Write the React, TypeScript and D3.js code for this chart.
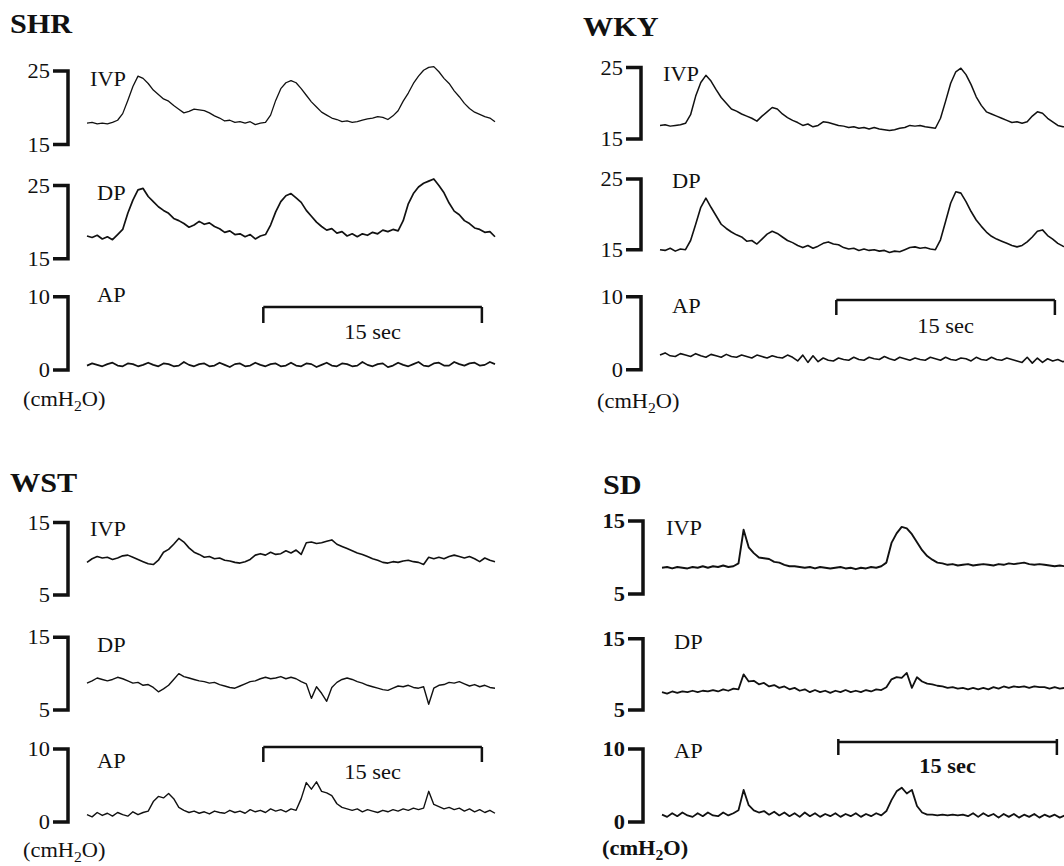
import React from 'react';
import * as d3 from 'd3';

// recording length shown in each trace (sec) and the 15 sec scale bar
const TRACE_SECONDS = 28;
const BAR_START = 12.1;
const BAR_END = 27.1;

const SHR_IVP = [17.9, 18.0, 17.8, 17.9, 17.8, 18.0, 18.3, 19.2, 21.0, 22.9,
  24.3, 24.0, 23.3, 22.4, 21.8, 21.2, 20.9, 20.3, 19.8, 19.3,
  19.5, 19.8, 19.7, 19.6, 19.3, 18.9, 18.6, 18.2, 18.3, 18.0,
  18.1, 17.9, 18.1, 17.7, 17.9, 18.0, 19.0, 21.0, 22.6, 23.4,
  23.7, 23.4, 22.6, 21.7, 20.8, 20.1, 19.4, 19.0, 18.6, 18.4,
  18.1, 18.2, 18.0, 18.1, 18.3, 18.5, 18.6, 18.8, 18.7, 18.4,
  18.9, 19.6, 20.9, 22.0, 23.3, 24.3, 25.1, 25.5, 25.6, 24.9,
  24.0, 23.3, 22.3, 21.5, 20.6, 19.9, 19.4, 19.1, 18.8, 18.6,
  18.1];
const SHR_DP = [18.1, 17.9, 18.2, 17.7, 18.0, 17.6, 18.3, 19.0, 21.2, 23.0,
  24.4, 24.6, 23.5, 22.8, 22.1, 21.6, 21.2, 20.5, 20.2, 19.8,
  19.3, 19.6, 20.1, 19.7, 19.9, 19.4, 19.1, 18.6, 18.8, 18.3,
  18.4, 18.0, 18.3, 17.7, 18.1, 18.3, 19.6, 21.4, 22.8, 23.6,
  23.9, 23.3, 22.7, 21.6, 20.8, 20.0, 19.4, 18.9, 19.1, 18.5,
  18.7, 18.1, 18.4, 18.0, 18.4, 18.2, 18.6, 18.4, 18.9, 18.7,
  19.0, 18.8, 20.2, 22.5, 23.9, 24.8, 25.3, 25.6, 25.9, 25.0,
  24.0, 22.6, 21.5, 21.0, 20.2, 19.8, 19.2, 19.0, 18.6, 18.7,
  18.0];
const SHR_AP = [0.6, 0.9, 0.7, 0.5, 0.8, 1.0, 0.6, 0.5, 0.9, 0.8,
  0.5, 0.7, 1.0, 0.7, 0.5, 0.9, 0.8, 0.5, 0.6, 1.1,
  0.7, 0.5, 0.8, 0.9, 0.5, 0.6, 1.0, 0.7, 0.4, 0.8,
  0.9, 0.5, 0.6, 1.0, 0.7, 0.5, 0.8, 0.9, 0.5, 0.6,
  1.0, 0.6, 0.5, 0.9, 0.8, 0.4, 0.7, 1.0, 0.6, 0.5,
  0.9, 0.8, 0.5, 0.6, 1.1, 0.7, 0.5, 0.8, 0.9, 0.4,
  0.6, 1.0, 0.7, 0.5, 0.8, 1.1, 0.6, 0.5, 0.9, 1.0,
  0.6, 0.6, 1.1, 0.8, 0.6, 0.9, 1.0, 0.6, 0.7, 1.1,
  0.8];

const WKY_IVP = [16.9, 17.0, 16.8, 16.9, 17.0, 17.2, 18.4, 21.0, 22.9, 23.9,
  23.1, 21.9, 20.8, 20.0, 19.2, 18.9, 18.5, 18.2, 17.9, 17.5,
  18.2, 18.8, 19.4, 19.2, 18.5, 18.0, 17.6, 17.3, 16.9, 17.1,
  16.7, 16.9, 17.4, 17.3, 17.1, 16.9, 16.8, 16.6, 16.7, 16.5,
  16.6, 16.4, 16.6, 16.4, 16.3, 16.2, 16.3, 16.5, 16.6, 16.9,
  16.8, 16.9, 16.7, 16.6, 16.5, 17.9, 20.3, 22.8, 24.4, 24.9,
  24.0, 22.6, 20.9, 19.7, 18.8, 18.5, 18.2, 17.9, 17.6, 17.3,
  17.4, 17.2, 17.4, 18.2, 18.8, 18.6, 17.9, 17.4, 16.9, 16.7,
  16.8];
const WKY_DP = [15.0, 14.9, 15.2, 14.8, 15.1, 15.0, 16.3, 18.6, 21.0, 22.3,
  21.0, 19.8, 18.6, 18.0, 17.5, 17.1, 16.8, 16.2, 16.3, 15.8,
  16.5, 17.2, 17.6, 17.3, 16.8, 16.3, 16.0, 15.6, 15.3, 15.6,
  15.2, 15.5, 15.9, 16.1, 15.8, 15.7, 15.3, 15.1, 15.2, 14.9,
  15.1, 14.9, 15.0, 14.8, 14.9, 14.6, 14.8, 14.7, 15.0, 15.3,
  15.4, 15.2, 15.3, 15.1, 15.0, 16.4, 19.0, 21.6, 23.2, 23.0,
  21.8, 20.4, 19.2, 18.3, 17.5, 16.9, 16.5, 16.2, 15.9, 15.6,
  15.4, 15.6, 16.1, 16.8, 17.6, 17.8, 17.0, 16.5, 15.9, 15.5,
  15.3];
const WKY_AP = [2.0, 2.3, 1.9, 1.8, 2.2, 2.0, 1.8, 2.2, 1.9, 1.7,
  2.1, 1.9, 1.7, 2.1, 1.8, 1.7, 2.0, 1.8, 1.6, 2.0,
  1.8, 1.6, 1.9, 1.7, 1.6, 2.0, 1.7, 1.2, 2.0, 1.0,
  1.9, 1.1, 1.6, 1.3, 1.2, 1.6, 1.4, 1.3, 1.7, 1.4,
  1.3, 1.7, 1.5, 1.4, 1.8, 1.5, 1.3, 1.7, 1.5, 1.3,
  1.6, 1.4, 1.3, 1.7, 1.5, 1.3, 1.7, 1.4, 1.3, 1.6,
  1.5, 1.2, 1.7, 1.4, 1.3, 1.7, 1.4, 1.3, 1.6, 1.4,
  1.2, 1.0, 1.7, 0.9, 1.6, 1.0, 1.5, 1.2, 1.4, 1.1,
  1.3];

const WST_IVP = [9.5, 10.0, 10.3, 10.1, 10.2, 9.9, 10.1, 10.4, 10.5, 10.2,
  9.9, 9.6, 9.3, 9.2, 9.8, 10.9, 11.3, 12.0, 12.8, 12.3,
  11.5, 10.9, 10.6, 10.2, 10.3, 10.0, 10.1, 9.8, 9.7, 9.5,
  9.4, 9.6, 9.9, 10.5, 10.7, 10.5, 10.9, 10.6, 10.7, 11.1,
  10.8, 11.2, 10.6, 12.2, 12.3, 12.1, 12.2, 12.4, 12.6, 12.0,
  11.7, 11.4, 11.1, 10.8, 10.6, 10.3, 10.0, 9.8, 9.5, 9.4,
  9.6, 9.5, 9.7, 9.8, 9.6, 9.5, 9.2, 10.2, 10.0, 10.2,
  10.0, 10.3, 10.5, 10.3, 10.1, 10.3, 10.0, 9.6, 10.1, 9.8,
  9.6];
const WST_DP = [8.7, 9.0, 9.4, 9.2, 9.0, 9.2, 9.5, 9.3, 9.0, 8.7,
  8.8, 8.4, 8.5, 8.1, 7.5, 7.9, 8.4, 9.2, 10.0, 9.6,
  9.4, 9.2, 9.0, 8.9, 8.7, 8.8, 8.5, 8.3, 8.1, 8.0,
  8.3, 8.6, 8.9, 9.0, 9.3, 9.5, 9.3, 9.4, 9.6, 9.3,
  9.5, 9.3, 8.9, 8.6, 6.6, 8.2, 7.3, 6.2, 8.1, 8.8,
  9.2, 9.4, 9.2, 8.9, 8.7, 8.4, 8.2, 8.0, 7.8, 7.7,
  8.0, 8.3, 8.2, 8.4, 8.1, 8.0, 8.2, 5.8, 8.0, 8.4,
  8.5, 8.8, 8.7, 8.9, 8.6, 8.3, 8.5, 8.2, 8.4, 8.1,
  8.0];
const WST_AP = [1.0, 0.7, 1.3, 0.9, 1.2, 0.8, 1.3, 1.0, 0.8, 1.4,
  1.0, 1.3, 1.5, 2.8, 3.5, 3.3, 3.9, 3.2, 2.0, 1.6,
  1.3, 1.5, 1.2, 1.4, 1.1, 1.5, 1.3, 1.2, 1.6, 1.3,
  1.5, 1.2, 1.7, 1.4, 1.6, 1.3, 1.8, 1.5, 1.7, 1.4,
  1.8, 1.6, 3.2, 5.4, 4.5, 5.5, 4.2, 4.0, 3.6, 2.5,
  2.0, 1.8, 1.6, 1.8, 1.4, 1.7, 1.5, 1.3, 1.6, 1.4,
  1.7, 1.5, 1.8, 1.6, 1.9, 1.7, 1.9, 4.2, 2.4, 2.1,
  1.8, 2.0, 1.7, 1.9, 1.5, 1.8, 1.4, 1.7, 1.3, 1.6,
  1.2];

const SD_IVP = [8.6, 8.7, 8.5, 8.7, 8.6, 8.5, 8.7, 8.6, 8.8, 8.6,
  8.8, 8.7, 8.9, 8.7, 8.8, 9.2, 13.8, 11.4, 10.6, 10.0,
  9.9, 9.8, 9.4, 9.3, 9.0, 8.8, 8.8, 8.7, 8.6, 8.7,
  8.5, 8.7, 8.6, 8.5, 8.6, 8.7, 8.5, 8.6, 8.4, 8.6,
  8.5, 8.7, 8.6, 8.8, 9.3, 12.0, 13.3, 14.2, 14.0, 13.2,
  12.1, 11.0, 10.2, 9.7, 9.3, 9.2, 9.0, 9.1, 8.9, 9.0,
  9.1, 8.9, 9.0, 9.1, 9.0, 8.9, 9.1, 9.0, 9.2, 9.1,
  9.2, 9.3, 9.1, 9.0, 9.1, 9.0, 8.9, 8.8, 8.9, 8.8,
  8.8];
const SD_DP = [7.5, 7.3, 7.6, 7.4, 7.6, 7.5, 7.7, 7.5, 7.7, 7.6,
  7.8, 7.6, 7.9, 7.7, 8.0, 7.9, 10.0, 9.0, 9.1, 8.6,
  8.8, 8.3, 8.5, 8.1, 8.3, 7.9, 8.1, 7.7, 7.9, 7.5,
  7.8, 7.5, 7.7, 7.4, 7.7, 7.5, 7.8, 7.5, 7.7, 7.5,
  7.8, 7.6, 7.9, 7.8, 8.2, 9.3, 9.6, 9.5, 10.2, 8.1,
  9.6, 9.0, 8.7, 8.6, 8.4, 8.3, 8.1, 8.2, 8.0, 8.1,
  7.9, 8.1, 7.9, 8.1, 7.9, 8.2, 8.0, 8.3, 8.1, 8.3,
  8.2, 8.3, 8.1, 8.3, 8.2, 8.2, 8.0, 8.2, 8.0, 8.1,
  8.0];
const SD_AP = [1.0, 0.7, 1.2, 0.8, 1.3, 0.9, 0.7, 1.2, 0.8, 1.3,
  0.9, 0.8, 1.3, 0.9, 1.2, 1.6, 4.4, 2.3, 1.6, 1.3,
  1.5, 1.0, 1.4, 0.9, 1.3, 0.8, 1.2, 0.7, 1.3, 0.8,
  1.2, 0.7, 1.1, 0.8, 1.2, 0.7, 1.1, 0.8, 1.2, 0.7,
  1.1, 0.8, 1.2, 0.9, 1.5, 3.0, 4.2, 4.7, 3.9, 4.4,
  2.2, 1.3, 1.0, 1.0, 0.9, 1.0, 0.9, 1.0, 0.9, 1.0,
  0.8, 1.2, 0.7, 1.2, 0.8, 1.1, 0.6, 1.1, 0.7, 1.1,
  0.6, 1.0, 0.7, 1.1, 0.6, 1.0, 0.7, 1.0, 0.6, 0.9,
  0.7];

// layout of the four panels (pixel positions, not data)
const PANELS = [
  {
    title: 'SHR', dx: 0, titleX: 10, titleY: 33, bold: false,
    unitX: 23, unitY: 406, barY: 307, barDrop: 16, barUp: 0, barTextY: 339,
    traces: [
      { name: 'IVP', data: SHR_IVP, lo: 15, hi: 25, top: 71, bottom: 144.5, lx: 90, ly: 86, lw: 1.3 },
      { name: 'DP', data: SHR_DP, lo: 15, hi: 25, top: 185.5, bottom: 258.7, lx: 97, ly: 200, lw: 1.7 },
      { name: 'AP', data: SHR_AP, lo: 0, hi: 10, top: 296.7, bottom: 370, lx: 97, ly: 302, lw: 1.7 },
    ],
  },
  {
    title: 'WKY', dx: 573, titleX: 10, titleY: 36, bold: false,
    unitX: 24, unitY: 408, barY: 300, barDrop: 15, barUp: 0, barTextY: 333,
    traces: [
      { name: 'IVP', data: WKY_IVP, lo: 15, hi: 25, top: 67.5, bottom: 139, lx: 90, ly: 81, lw: 1.5 },
      { name: 'DP', data: WKY_DP, lo: 15, hi: 25, top: 179, bottom: 249.7, lx: 99, ly: 188, lw: 1.6 },
      { name: 'AP', data: WKY_AP, lo: 0, hi: 10, top: 296.7, bottom: 369.7, lx: 99, ly: 313, lw: 1.6 },
    ],
  },
  {
    title: 'WST', dx: 0, titleX: 10, titleY: 492, bold: false,
    unitX: 23, unitY: 857, barY: 747, barDrop: 15, barUp: 0, barTextY: 779,
    traces: [
      { name: 'IVP', data: WST_IVP, lo: 5, hi: 15, top: 522.5, bottom: 595, lx: 90, ly: 536, lw: 1.6 },
      { name: 'DP', data: WST_DP, lo: 5, hi: 15, top: 637.3, bottom: 710, lx: 97, ly: 652, lw: 1.4 },
      { name: 'AP', data: WST_AP, lo: 0, hi: 10, top: 749, bottom: 822, lx: 97, ly: 768, lw: 1.4 },
    ],
  },
  {
    title: 'SD', dx: 575, titleX: 28, titleY: 494, bold: true,
    unitX: 27, unitY: 855, barY: 742, barDrop: 13, barUp: 3, barTextY: 773,
    traces: [
      { name: 'IVP', data: SD_IVP, lo: 5, hi: 15, top: 521, bottom: 594, lx: 91, ly: 535, lw: 1.9 },
      { name: 'DP', data: SD_DP, lo: 5, hi: 15, top: 638.7, bottom: 710, lx: 99, ly: 649, lw: 1.8 },
      { name: 'AP', data: SD_AP, lo: 0, hi: 10, top: 749, bottom: 822, lx: 99, ly: 758, lw: 1.8 },
    ],
  },
];

const FONT = '"Liberation Serif", "Times New Roman", serif';
const SX = 1.12; // the scanned figure is slightly stretched horizontally

const Txt = ({ x, y, size = 20, bold = false, anchor = 'start', children }: any) => (
  <text
    transform={`translate(${x},${y}) scale(${SX},1)`}
    fontSize={size}
    fontFamily={FONT}
    fontWeight={bold ? 'bold' : 'normal'}
    textAnchor={anchor}
    fill="#111"
  >
    {children}
  </text>
);

const xScale = d3.scaleLinear().domain([0, TRACE_SECONDS]).range([87, 495]);

const Panel = ({ p }: any) => {
  const x1 = xScale(BAR_START);
  const x2 = xScale(BAR_END);
  return (
    <g transform={`translate(${p.dx},0)`}>
      <Txt x={p.titleX} y={p.titleY} size={27} bold>{p.title}</Txt>
      {p.traces.map((t: any) => {
        const y = d3.scaleLinear().domain([t.lo, t.hi]).range([t.bottom, t.top]);
        const line = d3.line<number>()
          .x((d, i) => xScale((i * TRACE_SECONDS) / (t.data.length - 1)))
          .y(d => y(d));
        return (
          <g key={t.name}>
            <path
              d={`M53,${y(t.hi)}H68V${y(t.lo)}H53`}
              fill="none" stroke="#111" strokeWidth={3.5} strokeLinejoin="miter"
            />
            <Txt x={50} y={y(t.hi) + 7} anchor="end" bold={p.bold}>{t.hi}</Txt>
            <Txt x={50} y={y(t.lo) + 7} anchor="end" bold={p.bold}>{t.lo}</Txt>
            <Txt x={t.lx} y={t.ly}>{t.name}</Txt>
            <path d={line(t.data) || ''} fill="none" stroke="#111"
              strokeWidth={t.lw} strokeLinejoin="round" />
          </g>
        );
      })}
      <path
        d={`M${x1},${p.barY + p.barDrop}V${p.barY - p.barUp}M${x1},${p.barY}H${x2}M${x2},${p.barY - p.barUp}V${p.barY + p.barDrop}`}
        fill="none" stroke="#111" strokeWidth={2.5}
      />
      <Txt x={(x1 + x2) / 2} y={p.barTextY} anchor="middle" bold={p.bold}>15 sec</Txt>
      <Txt x={p.unitX} y={p.unitY} bold={p.bold}>
        (cmH<tspan dy={5} fontSize={14}>2</tspan><tspan dy={-5}>O)</tspan>
      </Txt>
    </g>
  );
};

export default function App() {
  return (
    <svg
      width={1064}
      height={866}
      style={{ position: 'absolute', left: 0, top: 0, background: '#fff' }}
    >
      <rect width={1064} height={866} fill="#fff" />
      {PANELS.map(p => <Panel key={p.title} p={p} />)}
    </svg>
  );
}
